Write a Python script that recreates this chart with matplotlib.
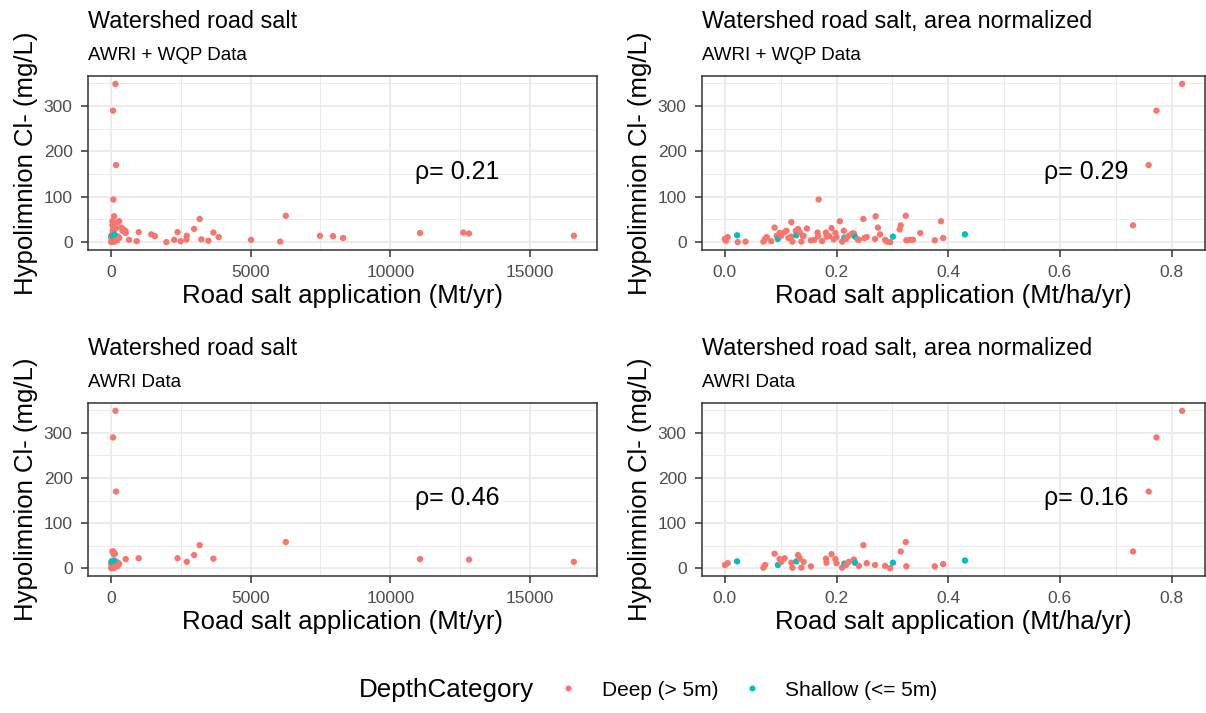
import matplotlib
matplotlib.use("Agg")
import matplotlib.pyplot as plt
from matplotlib.ticker import MultipleLocator, FormatStrFormatter
from matplotlib.lines import Line2D

plt.rcParams['font.family'] = ['Liberation Sans', 'DejaVu Sans']

# ---------------- data (one row per lake) ----------------
# AWRI lakes, deep
awri_deep_salt = [40, 15, 120, 60, 150, 535, 2720, 1000, 80, 30, 2980, 2390, 90, 16560, 70,
                  3670, 250, 110, 11060, 180, 50, 130, 200, 12810, 100, 3180, 270, 160, 45, 20,
                  95, 6260, 230, 140, 300, 60, 190, 82, 168]
awri_deep_area = [0.000, 0.005, 0.069, 0.072, 0.089, 0.098, 0.101, 0.107, 0.119, 0.121, 0.131,
                  0.134, 0.137, 0.141, 0.154, 0.181, 0.182, 0.191, 0.198, 0.200, 0.210, 0.217,
                  0.222, 0.231, 0.240, 0.248, 0.254, 0.269, 0.287, 0.296, 0.315, 0.324, 0.325,
                  0.376, 0.391, 0.731, 0.759, 0.773, 0.819]
awri_deep_cl = [7, 11, 1, 7, 32, 20, 14, 22, 12, 1, 29, 22, 1, 14, 4, 21, 12, 31, 20, 11, 1, 7,
                14, 19, 5, 51, 11, 7, 5, 0, 37, 58, 4, 4, 9, 37, 170, 290, 349]

# AWRI lakes, shallow
awri_shallow_salt = [30, 60, 100, 130, 150, 80, 120]
awri_shallow_area = [0.022, 0.095, 0.128, 0.214, 0.233, 0.301, 0.430]
awri_shallow_cl = [15, 7, 15, 10, 12, 12, 17]

# WQP lakes, deep
wqp_deep_salt = [3490, 1990, 6060, 3860, 250, 8310, 180, 1580, 12610, 7950, 2500, 140, 3240,
                 300, 2710, 120, 380, 1450, 450, 655, 2270, 90, 60, 95, 5020, 520, 7480, 930,
                 110, 80, 40, 70, 420]
wqp_deep_area = [0.002, 0.023, 0.037, 0.075, 0.119, 0.114, 0.147, 0.140, 0.166, 0.167, 0.174,
                 0.187, 0.195, 0.206, 0.238, 0.270, 0.274, 0.278, 0.313, 0.332, 0.337, 0.350,
                 0.387, 0.168, 0.160, 0.127, 0.093, 0.083, 0.228, 0.290, 0.250, 0.213, 0.110]
wqp_deep_cl = [3, 0, 1, 11, 44, 9, 30, 13, 21, 13, 2, 13, 6, 46, 6, 57, 32, 17, 28, 5, 5, 20,
               46, 94, 5, 25, 14, 2, 19, 1, 9, 25, 25]

rho_all_total, rho_all_area = 0.21, 0.29
rho_awri_total, rho_awri_area = 0.46, 0.16

depth_labels = ['Deep (> 5m)', 'Shallow (<= 5m)']
depth_colors = ['#F8766D', '#00BFC4']

# ---------------- assemble lake table ----------------
rows = []
for s, a, c in zip(awri_deep_salt, awri_deep_area, awri_deep_cl):
    rows.append((s, a, c, 0, 'AWRI'))
for s, a, c in zip(awri_shallow_salt, awri_shallow_area, awri_shallow_cl):
    rows.append((s, a, c, 1, 'AWRI'))
for s, a, c in zip(wqp_deep_salt, wqp_deep_area, wqp_deep_cl):
    rows.append((s, a, c, 0, 'WQP'))
rows.sort(key=lambda r: r[1])

all_rows = rows
awri_rows = [r for r in rows if r[4] == 'AWRI']

# ---------------- figure ----------------
W, H = 1206, 713
fig = plt.figure(figsize=(W / 100, H / 100), dpi=100)


def frac_box(x0, y0, x1, y1):
    return [x0 / W, 1 - y1 / H, (x1 - x0) / W, (y1 - y0) / H]


panels = [
    dict(box=frac_box(88, 76, 597, 250), data=all_rows, col=0, title='Watershed road salt',
         sub='AWRI + WQP Data', rho=rho_all_total),
    dict(box=frac_box(702, 76, 1205, 250), data=all_rows, col=1,
         title='Watershed road salt, area normalized', sub='AWRI + WQP Data', rho=rho_all_area),
    dict(box=frac_box(88, 403, 597, 576), data=awri_rows, col=0, title='Watershed road salt',
         sub='AWRI Data', rho=rho_awri_total),
    dict(box=frac_box(702, 403, 1205, 576), data=awri_rows, col=1,
         title='Watershed road salt, area normalized', sub='AWRI Data', rho=rho_awri_area),
]

grid_c = '#EBEBEB'
dark = '#333333'
tick_lab = '#4D4D4D'

for p in panels:
    ax = fig.add_axes(p['box'])
    d = p['data']
    xs = [r[p['col']] for r in d]
    ys = [r[2] for r in d]
    cs = [depth_colors[r[3]] for r in d]
    ax.scatter(xs, ys, c=cs, s=21, linewidths=0, zorder=3)

    xmin, xmax = min(xs), max(xs)
    ymin, ymax = min(ys), max(ys)
    xr, yr = xmax - xmin, ymax - ymin
    ax.set_xlim(xmin - 0.05 * xr, xmax + 0.05 * xr)
    ax.set_ylim(ymin - 0.05 * yr, ymax + 0.05 * yr)

    if p['col'] == 0:
        ax.xaxis.set_major_locator(MultipleLocator(5000))
        ax.xaxis.set_minor_locator(MultipleLocator(2500))
        xlabel = 'Road salt application (Mt/yr)'
        rho_x = 12400
    else:
        ax.xaxis.set_major_locator(MultipleLocator(0.2))
        ax.xaxis.set_minor_locator(MultipleLocator(0.1))
        ax.xaxis.set_major_formatter(FormatStrFormatter('%.1f'))
        xlabel = 'Road salt application (Mt/ha/yr)'
        rho_x = 0.648
    ax.yaxis.set_major_locator(MultipleLocator(100))
    ax.yaxis.set_minor_locator(MultipleLocator(50))

    ax.grid(which='major', color=grid_c, lw=1.3, zorder=0)
    ax.grid(which='minor', color=grid_c, lw=0.7, zorder=0)
    ax.set_axisbelow(True)
    for sp in ax.spines.values():
        sp.set_color(dark)
        sp.set_linewidth(1.1)
    ax.tick_params(which='major', length=5, width=1.1, color=dark, labelcolor=tick_lab,
                   labelsize=12.5, pad=6)
    ax.tick_params(which='minor', length=0)

    ax.set_xlabel(xlabel, fontsize=18.5, color='black', labelpad=3)
    ax.set_ylabel('Hypolimnion Cl- (mg/L)', fontsize=18.5, color='black', labelpad=4)

    ax.text(rho_x, 155, u'\u03c1= %.2f' % p['rho'], fontsize=18, ha='center', va='center',
            color='black', zorder=4)

    # titles
    x0 = p['box'][0]
    top_px = (1 - (p['box'][1] + p['box'][3])) * H
    fig.text(x0, 1 - (top_px - 48) / H, p['title'], fontsize=16.8, ha='left', va='baseline',
             color='black')
    fig.text(x0, 1 - (top_px - 16) / H, p['sub'], fontsize=13.5, ha='left', va='baseline',
             color='black')

# legend
fig.text(359 / W, 1 - 690 / H, 'DepthCategory', fontsize=18.7, ha='left', va='center')
handles = [Line2D([], [], marker='o', ls='', color=c, markersize=4.3, markeredgewidth=0)
           for c in depth_colors]
fig.legend(handles, depth_labels, ncol=2, loc='center left',
           bbox_to_anchor=(558 / W, 1 - 690 / H), frameon=False, fontsize=15,
           handlelength=1.0, handletextpad=1.1, columnspacing=1.1, borderpad=0,
           borderaxespad=0)

fig.savefig('out.png', dpi=100)
